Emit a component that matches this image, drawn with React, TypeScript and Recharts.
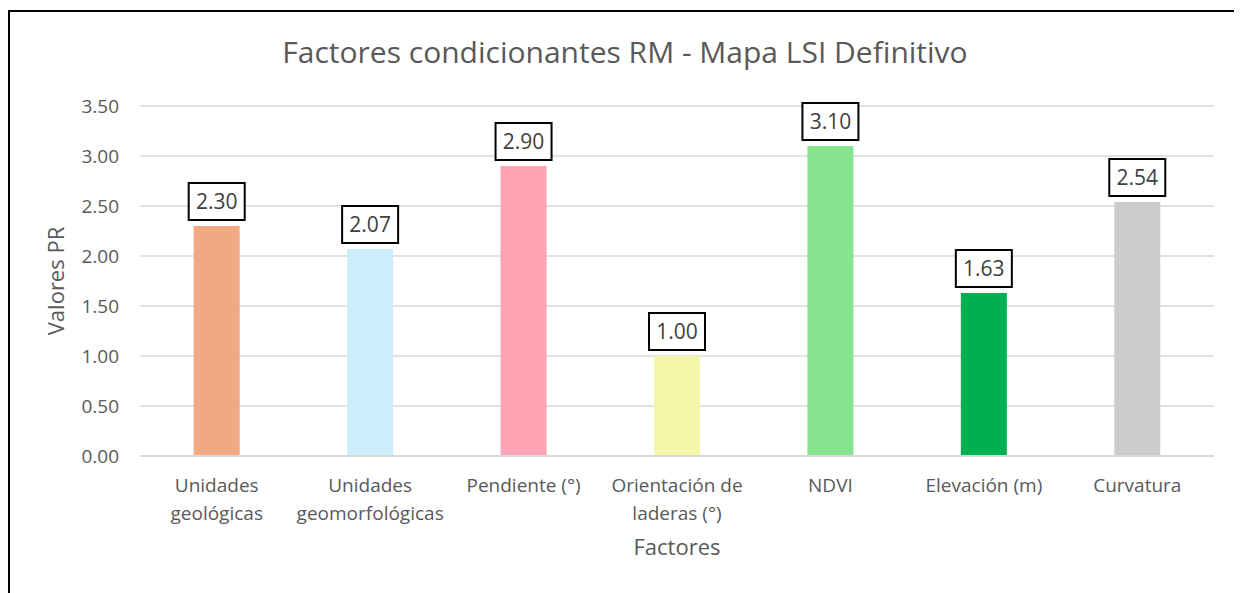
import React from 'react';
import { BarChart, Bar, XAxis, YAxis, CartesianGrid, Cell, LabelList, Label } from 'recharts';

const categories: string[] = ['Unidades geológicas', 'Unidades geomorfológicas', 'Pendiente (°)', 'Orientación de laderas (°)', 'NDVI', 'Elevación (m)', 'Curvatura'];
const tickLines: string[][] = [
  ['Unidades', 'geológicas'],
  ['Unidades', 'geomorfológicas'],
  ['Pendiente (°)'],
  ['Orientación de', 'laderas (°)'],
  ['NDVI'],
  ['Elevación (m)'],
  ['Curvatura'],
];
const values: number[] = [2.3, 2.07, 2.9, 1.0, 3.1, 1.63, 2.54];
const colors: string[] = ['#F1A983', '#CAEEFB', '#FFA3B5', '#F3F7A7', '#86E38E', '#00B050', '#CCCCCC'];
const yTicks: number[] = [0, 0.5, 1, 1.5, 2, 2.5, 3, 3.5];

const data = categories.map((c, i) => ({ name: c, value: values[i], idx: i }));

const FONT = '"Open Sans", "Noto Sans", sans-serif';
const GREY = '#595959';

const XTick = (props: any) => {
  const { x, y, payload } = props;
  const lines = tickLines[payload.index] || [payload.value];
  return (
    <g transform={`translate(${x},${y})`}>
      {lines.map((l: string, i: number) => (
        <text key={i} x={0} y={i * 28} dy={28} textAnchor="middle" fill={GREY} fontSize={19} fontFamily={FONT}>
          {l}
        </text>
      ))}
    </g>
  );
};

const BoxLabel = (props: any) => {
  const { x, y, width, value } = props;
  const cx = x + width / 2;
  const w = 56;
  const h = 37;
  const bottom = y - 6;
  return (
    <g>
      <rect x={cx - w / 2} y={bottom - h} width={w} height={h} fill="#fff" stroke="#000" strokeWidth={2} />
      <text x={cx} y={bottom - h / 2} dy={7} textAnchor="middle" fill="#404040" fontSize={21} fontFamily={FONT}>
        {Number(value).toFixed(2)}
      </text>
    </g>
  );
};

export default function App() {
  return (
    <div style={{ marginTop: 2, width: 1240, height: 600, borderTop: '2px solid #000', borderLeft: '2px solid #000', borderRight: '1px solid #888', boxSizing: 'border-box', position: 'relative', background: '#fff' }}>
      <div style={{ position: 'absolute', left: 0, top: 19, width: 1230, textAlign: 'center', fontFamily: FONT, fontSize: 30, color: GREY }}>
        Factores condicionantes RM - Mapa LSI Definitivo
      </div>
      <BarChart width={1230} height={590} data={data} margin={{ top: 94, right: 26, left: 60, bottom: 56 }} barCategoryGap="35%">
        <CartesianGrid vertical={false} stroke="#D9D9D9" strokeWidth={1.5} />
        <XAxis dataKey="name" tick={<XTick />} tickLine={false} axisLine={{ stroke: '#D9D9D9', strokeWidth: 2 }} interval={0} height={90}>
          <Label value="Factores" position="insideBottom" offset={0} fill={GREY} fontSize={22} fontFamily={FONT} dy={9} />
        </XAxis>
        <YAxis domain={[0, 3.5]} ticks={yTicks} tickFormatter={(v: number) => v.toFixed(2)} tickLine={false} axisLine={false} width={70} tickSize={8} tickMargin={13} tick={{ fill: GREY, fontSize: 19, fontFamily: FONT }}>
          <Label value="Valores PR" angle={-90} position="insideLeft" offset={0} fill={GREY} fontSize={22} fontFamily={FONT} dx={-14} style={{ textAnchor: 'middle' }} />
        </YAxis>
        <Bar dataKey="value" isAnimationActive={false}>
          {data.map((d, i) => (
            <Cell key={i} fill={colors[i]} />
          ))}
          <LabelList dataKey="value" content={<BoxLabel />} />
        </Bar>
      </BarChart>
    </div>
  );
}
